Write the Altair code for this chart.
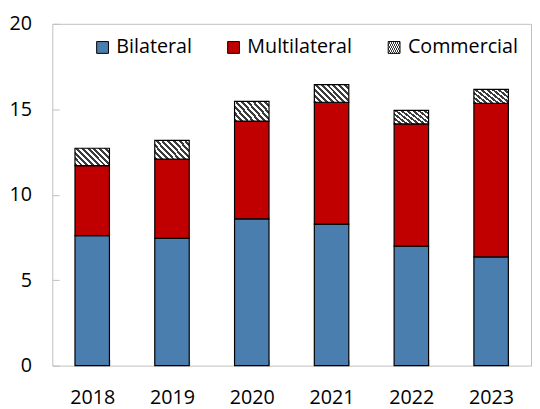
import altair as alt
import pandas as pd

years = ["2018", "2019", "2020", "2021", "2022", "2023"]
series = ["Bilateral", "Multilateral", "Commercial"]
bilateral = [7.61, 7.44, 8.59, 8.28, 6.99, 6.36]
multilateral = [4.09, 4.65, 5.72, 7.13, 7.15, 8.99]
commercial = [1.02, 1.09, 1.15, 1.03, 0.79, 0.81]
y_ticks = [0, 5, 10, 15, 20]
solid_colors = ["#4A7EAF", "#C00000"]

rows = []
for i, yr in enumerate(years):
    for k, vals in enumerate([bilateral, multilateral, commercial]):
        rows.append({"year": yr, "type": series[k], "value": vals[i], "rank": k})
df = pd.DataFrame(rows)

# diagonal hatch built as a hard-stop linear gradient
n = 9
stops = []
for j in range(n):
    a = j / n
    b = (j + 0.5) / n
    c = (j + 1) / n
    stops += [
        f"{{offset:{a:.4f},color:'#3c3c3c'}}",
        f"{{offset:{b:.4f},color:'#3c3c3c'}}",
        f"{{offset:{b:.4f},color:'#ffffff'}}",
        f"{{offset:{c:.4f},color:'#ffffff'}}",
    ]
hatch = "{gradient:'linear',x1:0,y1:1,x2:1.2,y2:0.4,stops:[" + ",".join(stops) + "]}"

FONT = "Open Sans"

bars = alt.Chart(df).mark_bar(stroke="black", strokeWidth=1.2).encode(
    x=alt.X(
        "year:N",
        sort=years,
        scale=alt.Scale(paddingInner=0.568, paddingOuter=0.284),
        axis=alt.Axis(
            title=None, labelAngle=0, domain=False, tickBand="extent",
            offset=-6, tickSize=6, tickColor="#BFBFBF", labelPadding=22,
        ),
    ),
    y=alt.Y(
        "value:Q",
        stack="zero",
        scale=alt.Scale(domain=[0, 20], nice=False),
        axis=alt.Axis(
            title=None, values=y_ticks, domain=False, grid=False,
            offset=-7, tickSize=7, tickColor="#BFBFBF", labelPadding=21,
        ),
    ),
    color=alt.Color(
        "type:N",
        scale=alt.Scale(domain=series, range=solid_colors + [alt.ExprRef(hatch)]),
        legend=alt.Legend(
            title=None, orient="none", legendX=41, legendY=14,
            direction="horizontal", symbolType="square", symbolSize=144,
            symbolStrokeColor="black", symbolStrokeWidth=1,
            labelFontSize=20, labelFont=FONT, labelColor="black",
            columnPadding=32, labelOffset=4,
        ),
    ),
    order=alt.Order("rank:Q"),
)

chart = bars.properties(
    width=486,
    height=347,
    autosize=alt.AutoSizeParams(type="none"),
    padding={"left": 45, "top": 13, "right": 1, "bottom": 41},
).configure_view(
    stroke="#BFBFBF", strokeWidth=1
).configure_axis(
    labelFont=FONT, labelFontSize=20, labelColor="black"
)

chart.save("out.html", embed_options={"renderer": "svg", "actions": False})
